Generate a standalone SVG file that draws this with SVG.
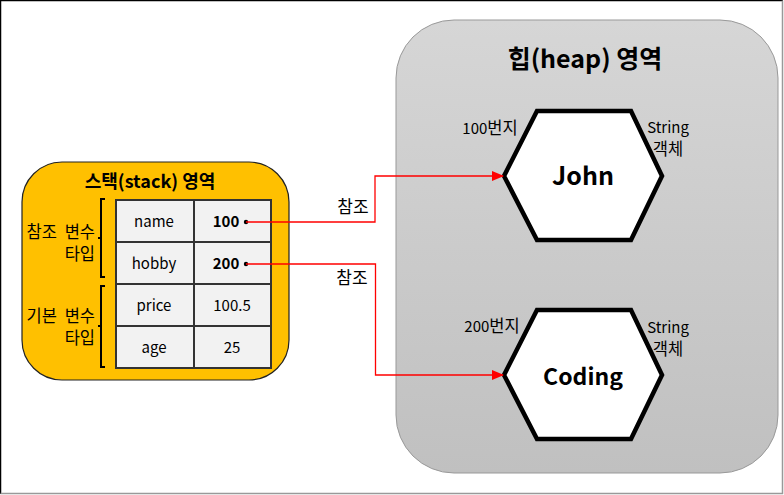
<svg xmlns="http://www.w3.org/2000/svg" width="784" height="495" viewBox="0 0 784 495">
<defs>
<linearGradient id="heapG" x1="0" y1="0" x2="0" y2="1">
<stop offset="0" stop-color="#d6d6d6"/>
<stop offset="1" stop-color="#c0c0c0"/>
</linearGradient>
<marker id="arr" markerWidth="12" markerHeight="10" refX="11" refY="5" orient="auto" markerUnits="userSpaceOnUse">
<path d="M0,0 L12,5 L0,10 Z" fill="#ff0000"/>
</marker>
<style>
text{font-family:"Noto Sans CJK KR","Noto Sans",sans-serif;fill:#000}
.t{font-size:15px}
.k{font-size:16.5px}
.b{font-weight:bold}
.cell{fill:#f2f2f2;stroke:#333;stroke-width:2}
.hex{fill:#fff;stroke:#000;stroke-width:4.5;stroke-linejoin:miter}
.br{fill:none;stroke:#000;stroke-width:2}
.con{fill:none;stroke:#ff0000;stroke-width:1.3}
</style>
</defs>
<rect x="0" y="0" width="784" height="495" fill="#fff"/>
<path d="M0.5,494 L0.5,0.5 L783,0.5" fill="none" stroke="#000" stroke-width="1.5"/>
<path d="M782.5,0.5 L782.5,493.5 L0.5,493.5" fill="none" stroke="#999" stroke-width="1.5"/>

<g id="heap">
<rect x="396" y="20" width="382" height="453" rx="58" ry="58" fill="url(#heapG)" stroke="#999" stroke-width="1"/>
<text x="585" y="68" font-size="25" class="b" text-anchor="middle">힙(heap) 영역</text>
</g>

<g id="john">
<polygon class="hex" points="537,111 631,111 662,176 631,240 537,240 504,176"/>
<text x="583" y="185" font-size="25" class="b" text-anchor="middle">John</text>
<text x="490" y="134" class="t" text-anchor="middle">100<tspan class="k">번지</tspan></text>
<text x="668" y="133" class="t" text-anchor="middle">String</text>
<text x="668" y="155" class="k" text-anchor="middle">객체</text>
</g>

<g id="coding">
<polygon class="hex" points="537,310 631,310 662,375 631,439 537,439 504,375"/>
<text x="583" y="385" font-size="23" class="b" text-anchor="middle">Coding</text>
<text x="492" y="332" class="t" text-anchor="middle">200<tspan class="k">번지</tspan></text>
<text x="668" y="333" class="t" text-anchor="middle">String</text>
<text x="668" y="355" class="k" text-anchor="middle">객체</text>
</g>

<g id="stack">
<rect x="22" y="162" width="267" height="218" rx="40" ry="40" fill="#ffc000" stroke="#222" stroke-width="1.2"/>
<text x="150" y="188" font-size="18" class="b" text-anchor="middle">스택(stack) 영역</text>
<rect class="cell" x="116" y="200" width="78" height="42"/>
<rect class="cell" x="194" y="200" width="77" height="42"/>
<rect class="cell" x="116" y="242" width="78" height="42"/>
<rect class="cell" x="194" y="242" width="77" height="42"/>
<rect class="cell" x="116" y="284" width="78" height="42"/>
<rect class="cell" x="194" y="284" width="77" height="42"/>
<rect class="cell" x="116" y="326" width="78" height="42"/>
<rect class="cell" x="194" y="326" width="77" height="42"/>
<text x="154" y="227" class="t" text-anchor="middle">name</text>
<text x="226" y="227" class="t b" text-anchor="middle">100</text>
<text x="154" y="269" class="t" text-anchor="middle">hobby</text>
<text x="226" y="269" class="t b" text-anchor="middle">200</text>
<text x="154" y="311" class="t" text-anchor="middle">price</text>
<text x="232" y="311" class="t" text-anchor="middle">100.5</text>
<text x="154" y="353" class="t" text-anchor="middle">age</text>
<text x="232" y="353" class="t" text-anchor="middle">25</text>
<circle cx="246" cy="222" r="2.2" fill="#000"/>
<circle cx="246" cy="264" r="2.2" fill="#000"/>
<path class="br" d="M105,199 L101,199 L101,277 L105,277 M101,238 L98,238"/>
<path class="br" d="M105,286 L101,286 L101,367 L105,367 M101,326 L98,326"/>
<text x="95" y="238" class="k" text-anchor="end" word-spacing="4">참조 변수</text>
<text x="95" y="260" class="k" text-anchor="end">타입</text>
<text x="95" y="322" class="k" text-anchor="end" word-spacing="4">기본 변수</text>
<text x="95" y="344" class="k" text-anchor="end">타입</text>
</g>

<g id="connectors">
<path class="con" d="M246,222 L375,222 L375,176 L503,176" marker-end="url(#arr)"/>
<path class="con" d="M246,264 L375.5,264 L375.5,375 L503,375" marker-end="url(#arr)"/>
<text x="353" y="213" font-size="17" text-anchor="middle">참조</text>
<text x="352" y="284" font-size="17" text-anchor="middle">참조</text>
</g>
</svg>
